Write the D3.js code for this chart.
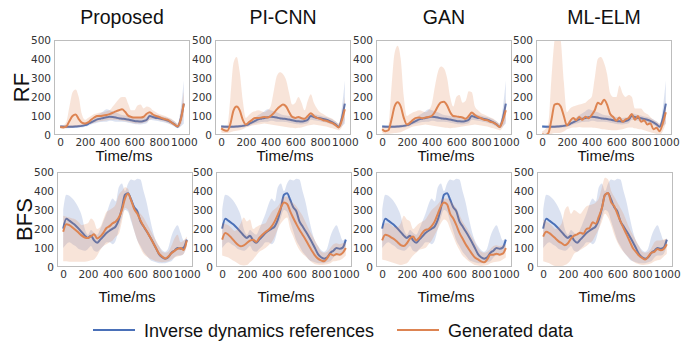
<!DOCTYPE html>
<html>
<head>
<meta charset="utf-8">
<script src="https://cdn.jsdelivr.net/npm/d3@7"></script>
<style>
	body { margin: 0; background: #fff; }
	svg { display: block; }
	.tick text { font-family: 'DejaVu Sans', sans-serif; font-size: 10.5px; fill: #333; }
	.title { font-family: 'Liberation Sans', Arial, sans-serif; font-size: 19.5px; fill: #111; }
	.xlabel { font-family: 'Liberation Sans', Arial, sans-serif; font-size: 15px; fill: #111; }
	.ylabel { font-family: 'Liberation Sans', Arial, sans-serif; font-size: 22px; fill: #111; }
	.legend text { font-family: 'Liberation Sans', Arial, sans-serif; font-size: 18px; fill: #111; }
</style>
</head>
<body>
<div id="chart"></div>
<script>
const time = d3.range(0, 1001, 25);
const methods = ['Proposed', 'PI-CNN', 'GAN', 'ML-ELM'];
const rowLabels = ['RF', 'BFS'];
const xTicks = [0, 200, 400, 600, 800, 1000];
const yTicks = [0, 100, 200, 300, 400, 500];
const legendLabels = ['Inverse dynamics references', 'Generated data'];

// RF, inverse dynamics reference (same in every column)
const rfRefMean = [45,44,43,43,44,45,46,48,52,58,66,74,82,86,90,93,96,95,92,88,86,84,82,78,74,72,71,74,80,100,95,90,88,84,80,74,66,56,44,85,165];
const rfRefLo = [38,37,36,36,37,38,39,40,44,48,55,60,65,68,70,70,75,74,70,70,70,68,65,62,58,56,55,58,62,80,78,75,72,68,65,60,52,44,36,45,60];
const rfRefHi = [52,52,50,50,51,52,53,56,60,70,80,92,105,115,125,135,130,125,120,112,105,102,100,98,95,92,90,92,98,115,110,106,102,98,95,90,82,72,58,140,285];

// RF, generated data
const rfProposedMean = [42,40,45,74,100,108,84,65,60,66,80,92,100,100,103,105,110,117,124,130,135,122,102,95,92,92,92,96,112,120,108,100,95,88,83,78,66,55,46,80,165];
const rfProposedLo = [35,34,35,38,40,42,42,45,50,55,60,65,70,72,75,78,80,80,80,78,75,72,70,66,62,60,60,65,70,80,85,82,78,74,70,62,55,46,38,50,110];
const rfProposedHi = [50,52,70,150,225,240,200,110,80,90,100,110,115,118,120,125,130,150,170,190,200,200,165,130,130,155,160,140,150,145,130,120,110,105,100,92,85,72,60,120,230];

const rfPicnnMean = [35,25,22,60,130,150,130,80,55,68,80,90,90,92,95,92,100,115,135,150,160,150,120,95,90,95,88,85,100,115,100,90,85,78,75,68,62,52,40,75,135];
const rfPicnnLo = [15,10,10,15,20,22,25,30,40,45,50,52,55,58,60,58,55,52,50,48,45,42,40,38,35,38,40,45,50,52,55,52,50,48,45,40,35,30,25,40,80];
const rfPicnnHi = [50,48,50,200,380,410,330,180,90,105,120,125,130,125,120,130,150,230,310,330,320,290,220,160,170,200,170,130,180,215,170,140,120,110,100,92,85,72,60,110,200];

const rfGanMean = [30,20,25,80,150,172,150,90,55,65,80,90,92,88,92,95,100,120,150,172,175,155,120,100,98,95,92,85,100,118,105,95,88,80,78,70,65,55,42,75,130];
const rfGanLo = [10,5,5,8,10,12,15,22,30,38,45,48,50,52,55,52,50,48,45,42,40,38,35,38,40,42,45,48,50,52,55,52,50,48,45,40,35,30,25,40,75];
const rfGanHi = [45,45,50,250,430,470,400,200,100,110,120,125,130,125,120,130,160,250,330,360,350,300,200,150,200,210,170,180,230,225,150,130,115,108,100,92,85,72,60,110,190];

const rfElmMean = [5,0,10,80,160,165,150,100,50,72,90,78,95,80,96,88,105,130,170,162,185,160,110,95,75,92,70,82,90,110,80,100,70,78,55,62,30,38,20,60,120];
const rfElmLo = [0,0,0,5,10,10,12,18,30,35,40,40,42,40,40,40,40,38,35,32,30,28,26,25,25,28,30,35,40,40,35,32,30,25,20,15,10,5,0,20,60];
const rfElmHi = [20,30,60,300,500,560,500,280,120,140,150,155,160,165,170,185,200,300,400,410,380,320,220,200,200,260,220,200,210,200,140,140,140,120,110,95,80,70,60,100,180];

// BFS, inverse dynamics reference
const bfsRefMean = [202,254,244,232,219,202,184,165,153,165,140,128,144,161,179,191,202,214,249,310,380,388,354,314,293,240,214,188,161,132,100,68,51,44,51,74,86,100,96,102,144];
const bfsRefLo = [100,120,130,120,110,95,90,85,95,110,85,80,95,110,130,130,120,140,200,260,300,290,240,190,140,110,80,60,40,30,25,20,20,20,25,30,50,60,60,70,110];
const bfsRefHi = [300,380,375,360,340,310,270,200,170,195,180,170,200,240,280,330,360,345,420,440,400,440,460,455,465,460,400,340,260,190,140,110,90,80,100,160,200,220,180,140,150];

// BFS, generated data
const bfsProposedMean = [185,225,220,208,195,180,165,155,152,162,172,150,160,180,205,215,230,240,260,300,360,385,350,305,280,245,215,190,160,130,100,70,55,45,55,72,85,95,100,90,140];
const bfsProposedLo = [30,30,28,28,28,28,28,28,30,35,40,60,90,110,120,130,140,160,175,240,310,300,250,190,140,100,70,55,45,38,30,27,25,27,30,40,50,55,60,70,110];
const bfsProposedHi = [270,265,260,255,250,235,220,225,230,255,240,200,210,250,290,300,310,330,380,400,420,410,350,320,300,280,260,230,200,170,140,110,80,75,80,110,150,170,130,140,160];

const bfsPicnnMean = [144,179,170,153,135,118,109,114,126,139,144,132,153,170,184,196,214,240,275,314,340,332,293,258,226,196,170,144,114,86,61,44,35,30,47,68,61,68,65,74,100];
const bfsPicnnLo = [60,55,50,40,30,20,10,8,10,25,40,60,80,90,100,115,130,160,200,230,250,260,200,160,120,90,70,55,40,25,15,12,10,12,15,20,30,32,35,45,60];
const bfsPicnnHi = [230,225,220,205,190,200,230,260,240,250,200,210,220,225,230,260,290,305,320,345,370,370,350,335,320,295,270,235,200,170,140,110,80,75,80,100,120,125,120,125,130];

const bfsGanMean = [140,170,165,155,145,130,115,110,125,150,160,140,155,180,195,200,215,240,280,320,340,330,280,255,220,180,150,120,95,70,50,40,30,25,40,65,65,70,65,70,100];
const bfsGanLo = [40,35,30,25,20,15,10,15,20,40,60,75,90,95,100,120,140,170,200,230,250,240,200,160,120,90,60,45,30,20,10,8,5,8,10,20,25,28,30,40,50];
const bfsGanHi = [200,230,230,220,210,210,230,270,250,240,200,215,230,240,250,275,300,315,330,350,360,360,350,330,310,275,240,215,190,160,130,100,80,75,80,95,110,115,110,115,120];

const bfsElmMean = [160,185,178,165,150,135,125,115,125,150,165,172,180,175,200,205,235,228,265,310,380,390,340,320,280,240,205,170,135,100,80,60,48,40,55,75,80,95,88,95,120];
const bfsElmLo = [30,25,20,10,5,5,5,10,20,40,70,80,90,100,110,125,140,170,200,240,280,260,220,170,130,100,80,60,45,30,20,15,10,12,15,20,30,35,40,55,70];
const bfsElmHi = [250,240,230,215,200,210,230,300,320,280,300,290,280,300,320,325,330,340,360,420,470,460,400,370,340,310,280,240,200,170,140,110,80,75,80,100,130,140,140,145,150];

const refColor = '#4a70b8';
const genColor = '#dd8452';

class BandPanel {
	constructor(_config) {
		this.config = {
			svg: _config.svg,
			id: _config.id,
			left: _config.left,
			top: _config.top,
			width: _config.width || 136,
			height: _config.height || 95,
			ref: _config.ref,
			gen: _config.gen,
			title: _config.title,
			yLabel: _config.yLabel,
			xLabelOffset: _config.xLabelOffset || 26,
		};
		this.initVis();
	}

	initVis() {
		const c = this.config;
		this.g = c.svg
			.append('g')
			.attr('transform', `translate(${c.left},${c.top})`);

		this.x = d3.scaleLinear().domain([-50, 1050]).range([0, c.width]);
		this.y = d3.scaleLinear().domain([0, 500]).range([c.height, 0]);

		this.g
			.append('clipPath')
			.attr('id', c.id)
			.append('rect')
			.attr('width', c.width)
			.attr('height', c.height);

		this.plot = this.g.append('g').attr('clip-path', `url(#${c.id})`);

		this.drawSeries(c.ref, refColor, 0.2);
		this.drawSeries(c.gen, genColor, 0.22);

		this.g
			.append('rect')
			.attr('x', 0.5)
			.attr('y', 0.5)
			.attr('width', c.width - 1)
			.attr('height', c.height - 1)
			.attr('fill', 'none')
			.attr('stroke', '#bdbdbd');

		this.xAxisG = this.g
			.append('g')
			.attr('transform', `translate(0,${c.height})`)
			.call(
				d3
					.axisBottom(this.x)
					.tickValues(xTicks)
					.tickFormat(d3.format('d'))
					.tickSize(0)
					.tickPadding(4)
			);
		this.yAxisG = this.g
			.append('g')
			.call(
				d3
					.axisLeft(this.y)
					.tickValues(yTicks)
					.tickFormat(d3.format('d'))
					.tickSize(0)
					.tickPadding(3)
			);
		this.g.selectAll('.domain').remove();

		this.g
			.append('text')
			.attr('class', 'xlabel')
			.attr('x', c.width / 2 + 2)
			.attr('y', c.height + c.xLabelOffset)
			.attr('text-anchor', 'middle')
			.text('Time/ms');

		if (c.title) {
			this.g
				.append('text')
				.attr('class', 'title')
				.attr('x', c.width / 2)
				.attr('y', -16)
				.attr('text-anchor', 'middle')
				.text(c.title);
		}

		if (c.yLabel) {
			this.g
				.append('text')
				.attr('class', 'ylabel')
				.attr('transform', `translate(-25,${c.height / 2}) rotate(-90)`)
				.attr('text-anchor', 'middle')
				.text(c.yLabel);
		}
	}

	drawSeries(s, color, alpha) {
		const rows = time.map((t, i) => ({ t: t, m: s.mean[i], lo: s.lo[i], hi: s.hi[i] }));

		this.plot
			.append('path')
			.datum(rows)
			.attr('fill', color)
			.attr('fill-opacity', alpha)
			.attr('stroke', 'none')
			.attr(
				'd',
				d3
					.area()
					.curve(d3.curveMonotoneX)
					.x((d) => this.x(d.t))
					.y0((d) => this.y(d.lo))
					.y1((d) => this.y(d.hi))
			);

		this.plot
			.append('path')
			.datum(rows)
			.attr('fill', 'none')
			.attr('stroke', color)
			.attr('stroke-width', 2)
			.attr('stroke-linejoin', 'round')
			.attr(
				'd',
				d3
					.line()
					.curve(d3.curveMonotoneX)
					.x((d) => this.x(d.t))
					.y((d) => this.y(d.m))
			);
	}
}

const svg = d3
	.select('#chart')
	.append('svg')
	.attr('width', 689)
	.attr('height', 343);

const rfRef = { mean: rfRefMean, lo: rfRefLo, hi: rfRefHi };
const bfsRef = { mean: bfsRefMean, lo: bfsRefLo, hi: bfsRefHi };
const rfGen = [
	{ mean: rfProposedMean, lo: rfProposedLo, hi: rfProposedHi },
	{ mean: rfPicnnMean, lo: rfPicnnLo, hi: rfPicnnHi },
	{ mean: rfGanMean, lo: rfGanLo, hi: rfGanHi },
	{ mean: rfElmMean, lo: rfElmLo, hi: rfElmHi },
];
const bfsGen = [
	{ mean: bfsProposedMean, lo: bfsProposedLo, hi: bfsProposedHi },
	{ mean: bfsPicnnMean, lo: bfsPicnnLo, hi: bfsPicnnHi },
	{ mean: bfsGanMean, lo: bfsGanLo, hi: bfsGanHi },
	{ mean: bfsElmMean, lo: bfsElmLo, hi: bfsElmHi },
];

const topLefts = [54, 215, 376, 536];
const bottomLefts = [57, 216, 376, 537];

methods.forEach((m, i) => {
	new BandPanel({
		svg: svg,
		id: 'clip-rf-' + i,
		left: topLefts[i],
		top: 40,
		ref: rfRef,
		gen: rfGen[i],
		title: m,
		yLabel: i === 0 ? rowLabels[0] : null,
		xLabelOffset: 26,
	});
	new BandPanel({
		svg: svg,
		id: 'clip-bfs-' + i,
		left: bottomLefts[i],
		top: 172,
		ref: bfsRef,
		gen: bfsGen[i],
		yLabel: i === 0 ? rowLabels[1] : null,
		xLabelOffset: 35,
	});
});

// legend
const legend = svg.append('g').attr('class', 'legend');
const legendX = [93, 397];
legendLabels.forEach((label, i) => {
	const lg = legend.append('g').attr('transform', `translate(${legendX[i]},330)`);
	lg.append('line')
		.attr('x1', 0)
		.attr('x2', 42)
		.attr('stroke', i === 0 ? refColor : genColor)
		.attr('stroke-width', 2);
	lg.append('text')
		.attr('x', 51)
		.attr('y', 6.5)
		.text(label);
});
</script>
</body>
</html>
